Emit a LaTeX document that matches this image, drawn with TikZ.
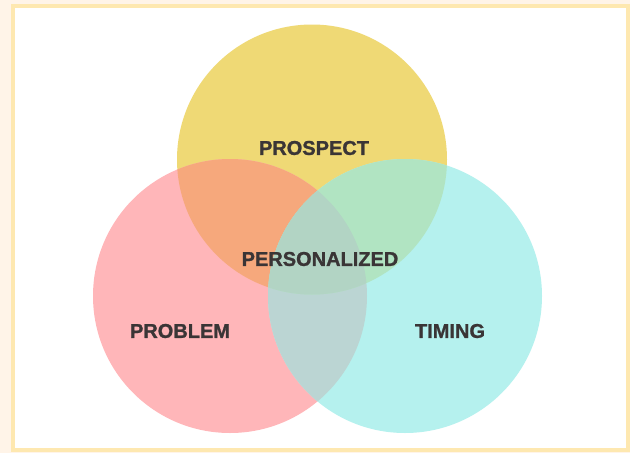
\documentclass[tikz,border=0pt]{standalone}
\usepackage{fontspec}
\setmainfont{Liberation Sans}
\font\vnheavy="Liberation Sans/B:embolden=1.2" at 20pt
\definecolor{bgcream}{RGB}{255,244,232}
\definecolor{framegold}{RGB}{254,232,176}
\definecolor{vnyellow}{RGB}{239,217,117}
\definecolor{vnpink}{RGB}{255,182,185}
\definecolor{vncyan}{RGB}{181,241,238}
\definecolor{vnorange}{RGB}{246,168,124}
\definecolor{vngreen}{RGB}{177,228,194}
\definecolor{vnteal}{RGB}{187,213,211}
\definecolor{vncenter}{RGB}{178,212,196}
\definecolor{txtgray}{RGB}{58,53,54}

\begin{document}
\begin{tikzpicture}[x=1pt,y=-1pt,
  vnlabel/.style={font=\vnheavy, text=txtgray}]
% background and frame
\fill[bgcream] (0,0) rectangle (630,453);
\useasboundingbox (0,0) rectangle (630,453);
\draw[framegold, line width=4pt, fill=white] (13,6) rectangle (628,450);

% circles
\fill[vnyellow] (312,159.5) circle[radius=135pt];
\fill[vnpink] (230,296) circle[radius=137pt];
\fill[vncyan] (405,296) circle[radius=137pt];

% overlaps
\begin{scope}
\clip (230,296) circle[radius=137pt];
\fill[vnorange] (312,159.5) circle[radius=135pt];
\fill[vnteal] (405,296) circle[radius=137pt];
\end{scope}
\begin{scope}
\clip (405,296) circle[radius=137pt];
\fill[vngreen] (312,159.5) circle[radius=135pt];
\end{scope}
\begin{scope}
\clip (230,296) circle[radius=137pt];
\clip (405,296) circle[radius=137pt];
\fill[vncenter] (312,159.5) circle[radius=135pt];
\end{scope}

% labels
\node[vnlabel] (prospect) at (314,148) {PROSPECT};
\node[vnlabel] (personalized) at (320,259) {PERSONALIZED};
\node[vnlabel] (problem) at (180,331) {PROBLEM};
\node[vnlabel] (timing) at (450,331) {TIMING};
\end{tikzpicture}
\end{document}
